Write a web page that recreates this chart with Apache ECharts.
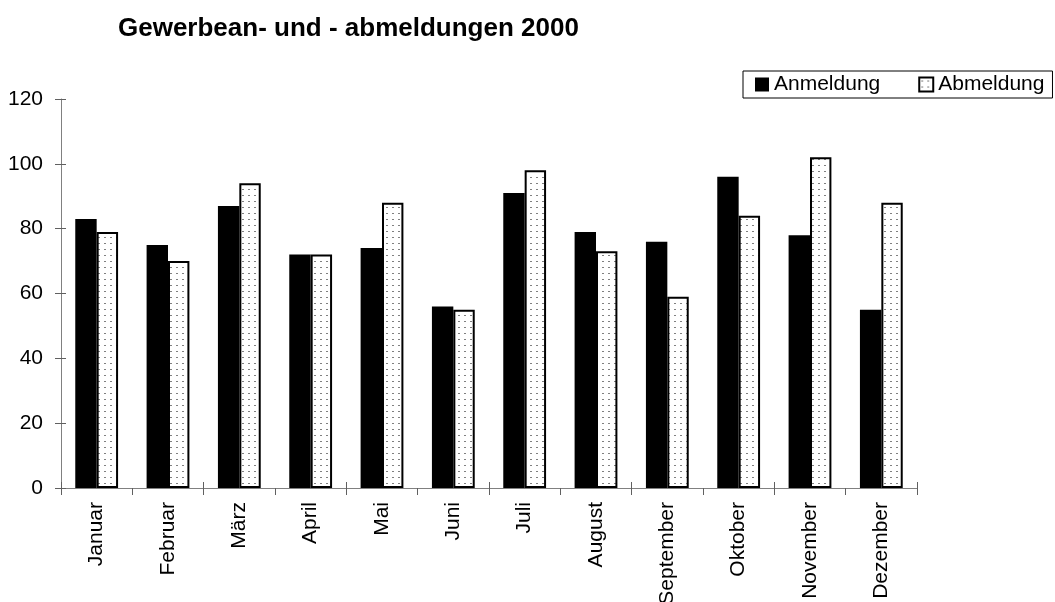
<!DOCTYPE html>
<html>
<head>
<meta charset="utf-8">
<script src="https://cdn.jsdelivr.net/npm/echarts@6/dist/echarts.min.js"></script>
<style>
  html, body { margin: 0; padding: 0; background: #fff; }
  #chart { width: 1055px; height: 602px; }
</style>
</head>
<body>
<div id="chart"></div>
<script>
var months = ['Januar', 'Februar', 'März', 'April', 'Mai', 'Juni', 'Juli', 'August', 'September', 'Oktober', 'November', 'Dezember'];
var anmeldung = [83, 75, 87, 72, 74, 56, 91, 79, 76, 96, 78, 55];
var abmeldung = [79, 70, 94, 72, 88, 55, 98, 73, 59, 84, 102, 88];
var yTicks = [0, 20, 40, 60, 80, 100, 120];

// dotted fill like the old excel pattern
function dotPattern() {
  var c = document.createElement('canvas');
  c.width = 6;
  c.height = 6;
  var ctx = c.getContext('2d');
  ctx.fillStyle = '#fff';
  ctx.fillRect(0, 0, 6, 6);
  ctx.fillStyle = '#808080';
  ctx.fillRect(2, 3, 2, 1);
  return c;
}

function init() {
  var chart = echarts.init(document.getElementById('chart'));
  var font = 'Liberation Sans, Arial, sans-serif';
  var yMin = yTicks[0], yMax = yTicks[yTicks.length - 1];
  var step = yTicks[1] - yTicks[0];
  var dots = dotPattern();

  chart.setOption({
    animation: false,
    textStyle: { fontFamily: font },
    title: {
      text: 'Gewerbean- und - abmeldungen 2000',
      left: 113,
      top: 11,
      textStyle: { fontFamily: font, fontSize: 26, fontWeight: 'bold', color: '#000' }
    },
    legend: {
      left: 743,
      top: 71,
      padding: [3, 8, 3, 12],
      itemGap: 38,
      itemWidth: 14,
      itemHeight: 14,
      borderColor: '#000',
      borderWidth: 1,
      textStyle: { fontFamily: font, fontSize: 21, color: '#000' },
      data: [
        { name: 'Anmeldung', icon: 'rect', itemStyle: { color: '#000' } },
        { name: 'Abmeldung', icon: 'rect', itemStyle: { color: { image: dots, repeat: 'repeat' }, borderColor: '#000', borderWidth: 2 } }
      ]
    },
    grid: {
      left: 61,
      right: 138,
      top: 99,
      bottom: 114,
      outerBoundsMode: 'none'
    },
    xAxis: [
      {
        type: 'category',
        data: months,
        axisLine: { lineStyle: { color: '#808080', width: 1 } },
        axisTick: { show: true, length: 7, lineStyle: { color: '#606060' } },
        axisLabel: {
          interval: 0,
          rotate: 90,
          margin: 14,
          fontFamily: font,
          fontSize: 21,
          color: '#000'
        }
      },
      {
        type: 'category',
        data: months,
        position: 'bottom',
        axisLine: { show: false },
        axisTick: { show: true, inside: true, length: 6, lineStyle: { color: '#606060' } },
        axisLabel: { show: false }
      }
    ],
    yAxis: [
      {
        type: 'value',
        min: yMin,
        max: yMax,
        interval: step,
        axisLine: { show: true, lineStyle: { color: '#808080', width: 1 } },
        axisTick: { show: true, length: 6, lineStyle: { color: '#606060' } },
        splitLine: { show: false },
        axisLabel: { margin: 18, fontFamily: font, fontSize: 21, color: '#000' }
      },
      {
        type: 'value',
        position: 'left',
        min: yMin,
        max: yMax,
        interval: step,
        axisLine: { show: false },
        axisTick: { show: true, inside: true, length: 5, lineStyle: { color: '#606060' } },
        splitLine: { show: false },
        axisLabel: { show: false }
      }
    ],
    series: [
      {
        name: 'Anmeldung',
        type: 'bar',
        barGap: '0%',
        barCategoryGap: '40%',
        itemStyle: { color: '#000' },
        data: anmeldung
      },
      {
        name: 'Abmeldung',
        type: 'bar',
        barGap: '0%',
        barCategoryGap: '40%',
        itemStyle: {
          color: { image: dots, repeat: 'repeat' },
          borderColor: '#000',
          borderWidth: 2
        },
        data: abmeldung
      }
    ]
  });
}

init();
</script>
</body>
</html>
